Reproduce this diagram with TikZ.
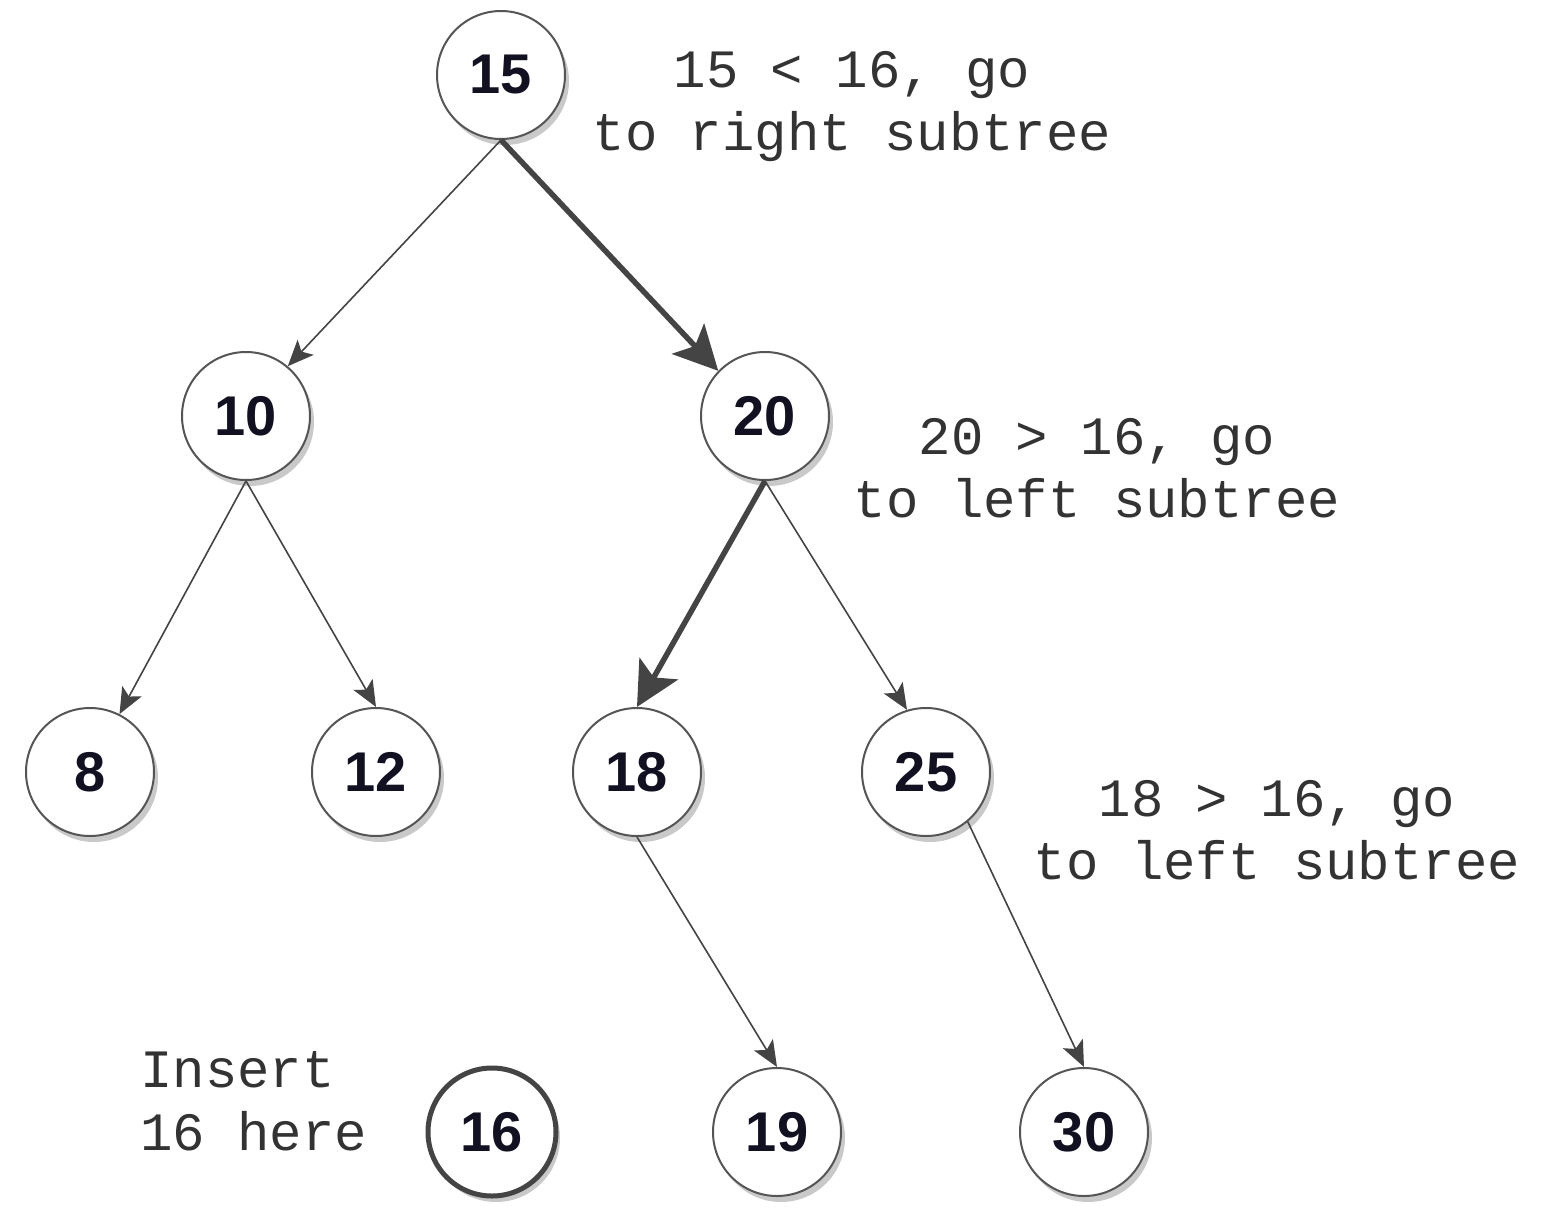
\documentclass[tikz,border=0pt]{standalone}
\usepackage{fontspec}
\setmainfont{Liberation Sans}
\newfontfamily\monofnt{Liberation Mono}
\usetikzlibrary{arrows.meta,shadows}
\definecolor{edgec}{HTML}{444444}
\definecolor{ringc}{HTML}{555555}
\definecolor{txtc}{HTML}{333333}
\definecolor{numc}{HTML}{111122}
\tikzset{
  bstnode/.style={circle, draw=ringc, line width=2pt, fill=white, minimum size=128pt, inner sep=0pt,
    font=\fontsize{56}{60}\selectfont\bfseries, text=numc,
    drop shadow={shadow xshift=4pt, shadow yshift=-6pt, opacity=0.35, fill=black!60}},
  newnode/.style={bstnode, draw=edgec, line width=5pt},
  thinedge/.style={draw=edgec, line width=1.6pt, -{Stealth[length=26pt,width=22pt,inset=6pt]}},
  thickedge/.style={draw=edgec, line width=5.5pt, -{Stealth[length=44pt,width=44pt,inset=10pt]}},
  note/.style={font=\monofnt\fontsize{54}{63}\selectfont, text=txtc, inner sep=0pt}
}
\begin{document}
\begin{tikzpicture}[x=1pt,y=-1pt]
\useasboundingbox[fill=white] (0,0) rectangle (1545,1210);
\node[bstnode] (n15) at (501,75) {15};
\node[bstnode] (n10) at (246,416) {10};
\node[bstnode] (n20) at (765,416) {20};
\node[bstnode] (n8)  at (90,772) {8};
\node[bstnode] (n12) at (376,772) {12};
\node[bstnode] (n18) at (637,772) {18};
\node[bstnode] (n25) at (926,772) {25};
\node[newnode] (n16) at (492,1132) {16};
\node[bstnode] (n19) at (777,1132) {19};
\node[bstnode] (n30) at (1084,1132) {30};

\draw[thinedge] (n15.south) -- (n10.50);
\draw[thickedge] (n15.south) -- (n20.136);
\draw[thinedge] (n10.south) -- (n8.63);
\draw[thinedge] (n10.south) -- (n12.north);
\draw[thickedge] (n20.south) -- (n18.north);
\draw[thinedge] (n20.south) -- (n25.107);
\draw[thinedge] (n18.south) -- (n19.north);
\draw[thinedge] (n25.-50) -- (n30.north);

\node[note, align=center] (l1) at (852,107) {15 < 16, go\\to right subtree};
\node[note, align=center] (l2) at (1097,468) {20 > 16, go\\to left subtree};
\node[note, align=center] (l3) at (1277,830) {18 > 16, go\\to left subtree};
\node[note, align=left, anchor=west] (l4) at (140,1101) {Insert\\16 here};
\end{tikzpicture}
\end{document}
